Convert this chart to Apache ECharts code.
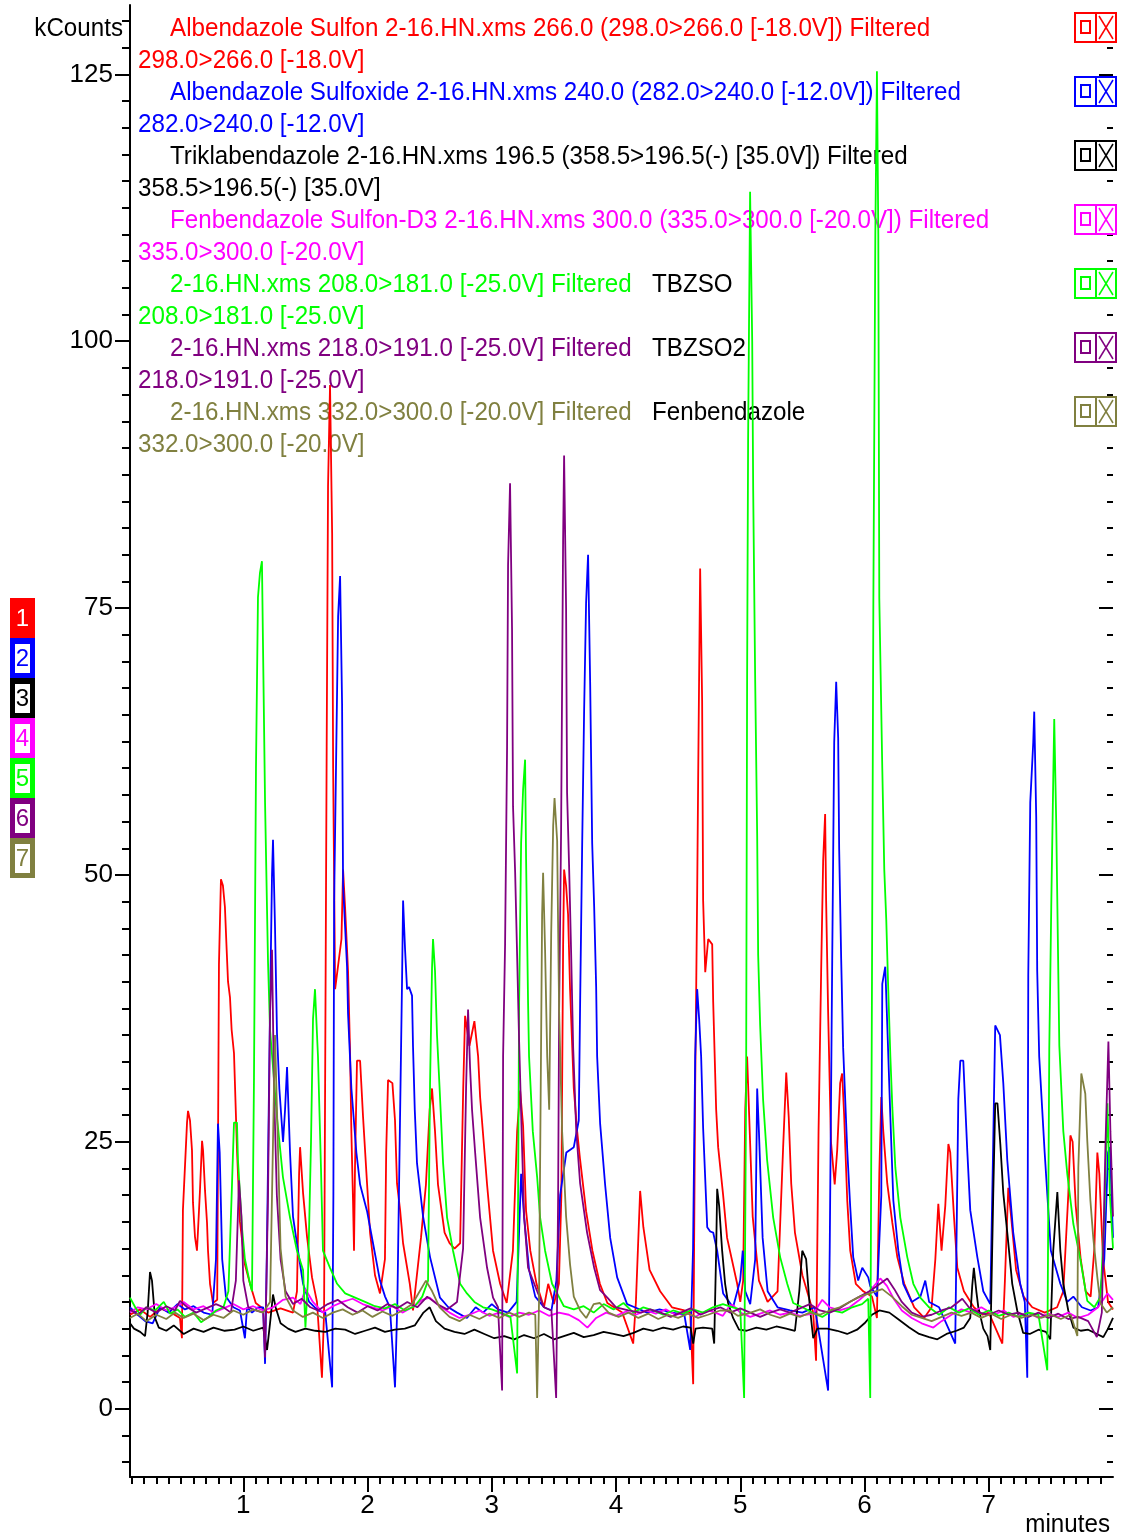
<!DOCTYPE html>
<html>
<head>
<meta charset="utf-8">
<script src="https://cdn.jsdelivr.net/npm/echarts@6/dist/echarts.min.js"></script>
<style>
  html, body { margin: 0; padding: 0; background: #fff; }
  #chart { width: 1127px; height: 1537px; }
</style>
</head>
<body>
<div id="chart"></div>
<script>
// chromatogram traces, [minutes, kCounts]
const albSulfon = [[0.088,8.8],[0.17,9.3],[0.25,8.6],[0.33,9.4],[0.42,9.0],[0.49,8.5],[0.506,6.6],[0.514,18.6],[0.547,26.8],[0.555,27.9],[0.571,27.0],[0.587,24.2],[0.595,19.3],[0.611,16.1],[0.627,14.8],[0.635,16.6],[0.651,20.4],[0.668,25.1],[0.676,24.2],[0.692,20.4],[0.708,17.4],[0.716,14.8],[0.732,11.7],[0.756,9.9],[0.79,10.2],[0.804,41.6],[0.82,49.6],[0.836,49.0],[0.852,47.0],[0.866,43.0],[0.877,40.0],[0.893,38.5],[0.906,35.5],[0.925,33.3],[0.95,24],[0.973,17.5],[1.013,13.5],[1.054,11.7],[1.10,9.9],[1.20,9.0],[1.30,9.4],[1.40,9.0],[1.432,11],[1.449,22],[1.457,24.5],[1.481,20.2],[1.513,16.1],[1.553,12.3],[1.593,10],[1.633,2.9],[1.65,9],[1.671,62],[1.682,86.4],[1.698,95.9],[1.71,86],[1.715,82],[1.723,60],[1.739,39.3],[1.79,44],[1.803,50.5],[1.819,47],[1.843,41],[1.859,33.6],[1.870,25.8],[1.883,19.5],[1.891,14.8],[1.899,22.6],[1.915,32.6],[1.94,32.6],[1.964,27.3],[1.996,21.1],[2.02,16.5],[2.06,12.5],[2.10,10.8],[2.14,14],[2.15,24],[2.165,30.8],[2.20,30.5],[2.221,27],[2.237,21.1],[2.262,18.6],[2.286,15.5],[2.34,11.7],[2.366,9.2],[2.43,16],[2.47,21],[2.50,28],[2.519,30],[2.543,26],[2.567,21],[2.62,16.5],[2.66,15.5],[2.70,15],[2.745,15.5],[2.77,30],[2.785,36.8],[2.82,34],[2.86,36.3],[2.89,33],[2.906,29.2],[2.962,21],[3.01,14.8],[3.067,11.7],[3.12,9.9],[3.17,14.8],[3.204,26],[3.228,29.8],[3.252,26.5],[3.276,18.5],[3.31,14.8],[3.36,11.7],[3.42,9.5],[3.454,11.7],[3.50,9.8],[3.54,11.7],[3.56,20],[3.574,43.3],[3.582,50.5],[3.598,49],[3.614,46.3],[3.63,39.3],[3.66,30],[3.687,26],[3.711,23.3],[3.759,18.5],[3.81,14.8],[3.87,11.7],[3.93,9.9],[4.05,9.0],[4.138,6.1],[4.16,10],[4.194,20.4],[4.22,17],[4.27,13],[4.355,11.0],[4.45,9.5],[4.55,9.2],[4.597,9],[4.621,2.3],[4.637,30],[4.653,48.2],[4.661,59],[4.677,78.7],[4.693,66.3],[4.701,47.6],[4.718,40.9],[4.742,44],[4.774,43.5],[4.782,38.1],[4.806,28],[4.822,24.5],[4.862,20],[4.894,16],[4.975,11.7],[5.0,10],[5.023,12],[5.04,28],[5.055,33],[5.07,28],[5.10,18],[5.15,12],[5.22,10],[5.30,11],[5.345,24.5],[5.37,31.5],[5.39,27.3],[5.41,21.1],[5.44,16.5],[5.50,12.5],[5.55,10.5],[5.587,9.0],[5.61,4.5],[5.63,26],[5.651,41],[5.667,51.3],[5.683,55.7],[5.691,47.6],[5.707,37.2],[5.73,25],[5.76,21],[5.78,24.2],[5.804,30.5],[5.82,31.4],[5.836,27.5],[5.861,19.5],[5.885,14.8],[5.93,11.7],[5.99,11],[6.06,10.5],[6.10,8.5],[6.119,22],[6.135,29.2],[6.151,26],[6.183,21.1],[6.224,17.4],[6.264,14.2],[6.32,11.7],[6.40,9.5],[6.48,8.5],[6.54,9.5],[6.57,14],[6.594,19.2],[6.62,14.8],[6.65,19],[6.675,24.8],[6.69,24],[6.72,18],[6.747,13.2],[6.80,11],[6.88,9.5],[6.95,8.8],[7.0,9],[7.109,6.1],[7.13,12],[7.157,20.7],[7.18,18],[7.22,13],[7.28,10.5],[7.35,9.5],[7.45,9],[7.55,9.5],[7.60,11],[7.64,20],[7.657,25.6],[7.675,25],[7.70,19],[7.74,14],[7.78,11],[7.82,10.5],[7.85,15],[7.874,24.0],[7.89,22],[7.92,14],[7.96,10],[8.0,9.3]];

const albSulfoxide = [[0.088,9.5],[0.15,8.8],[0.21,8.2],[0.27,8.0],[0.33,9.5],[0.40,9.0],[0.47,9.8],[0.53,9.3],[0.60,9.6],[0.68,9.0],[0.75,8.8],[0.78,14],[0.796,26.7],[0.81,24],[0.83,14],[0.86,10.5],[0.92,9.5],[0.973,9.2],[1.013,6.6],[1.03,9.5],[1.07,9.0],[1.12,9.5],[1.16,9.5],[1.175,4.2],[1.19,15],[1.215,37.4],[1.231,50],[1.239,53.3],[1.255,45.2],[1.271,35.2],[1.29,30],[1.32,25],[1.336,28],[1.352,32],[1.376,24],[1.40,18],[1.44,14.8],[1.481,11.7],[1.53,10],[1.60,9.2],[1.66,9.0],[1.715,2.0],[1.725,20],[1.731,47.6],[1.755,67.4],[1.763,74.2],[1.779,78],[1.795,66],[1.803,49],[1.835,41.4],[1.843,37],[1.87,30],[1.91,24],[1.94,21],[1.996,18.5],[2.044,15.5],[2.10,12],[2.141,10.5],[2.18,9.5],[2.221,2.0],[2.24,10],[2.278,40.4],[2.286,47.6],[2.302,43],[2.318,39.3],[2.334,39.5],[2.358,38.7],[2.366,33.9],[2.38,28],[2.398,23],[2.447,18],[2.503,14.2],[2.583,10.4],[2.65,9.5],[2.72,9.0],[2.80,8.5],[2.87,9.5],[2.93,9.0],[3.0,9.8],[3.05,9.3],[3.13,9.0],[3.20,10],[3.236,22],[3.26,18],[3.30,13],[3.35,10.5],[3.42,9.5],[3.48,9.2],[3.52,12],[3.55,20],[3.60,24],[3.66,24.5],[3.70,27],[3.711,38],[3.727,52.4],[3.743,65.3],[3.759,75.5],[3.775,80],[3.792,67.8],[3.808,53],[3.824,47],[3.84,39.5],[3.848,33],[3.872,26.7],[3.912,21],[3.953,16],[4.009,12.3],[4.089,9.8],[4.15,9.5],[4.25,9.0],[4.35,9.3],[4.45,9.0],[4.55,8.8],[4.597,5.5],[4.62,15],[4.637,33],[4.653,39.3],[4.669,36.5],[4.685,33],[4.701,26.3],[4.734,17],[4.758,16.6],[4.782,16.5],[4.814,14.8],[4.862,10.8],[4.942,9.5],[4.999,12],[5.02,14.8],[5.04,11],[5.08,9.8],[5.12,14],[5.136,30],[5.15,26],[5.18,16],[5.22,11],[5.30,9.5],[5.40,9.2],[5.50,9.0],[5.60,9.5],[5.707,1.7],[5.72,15],[5.74,42],[5.756,62.4],[5.772,68.1],[5.788,62.8],[5.796,52.4],[5.812,42.2],[5.828,33.8],[5.861,24.2],[5.885,18.9],[5.909,14.2],[5.949,12],[5.982,13.2],[6.03,12.3],[6.046,11.5],[6.10,10.5],[6.135,20],[6.143,39.8],[6.167,41.4],[6.183,36],[6.208,27.3],[6.232,19.5],[6.272,14.8],[6.312,11.7],[6.38,10],[6.45,10.5],[6.489,12],[6.52,10],[6.60,9.5],[6.73,6.1],[6.755,29],[6.771,32.6],[6.795,32.6],[6.827,24.2],[6.851,18.6],[6.908,14.2],[6.956,11],[7.012,9.8],[7.036,25],[7.052,35.9],[7.09,35],[7.117,30.5],[7.149,23.3],[7.197,16.5],[7.253,11.7],[7.29,10],[7.31,2.9],[7.318,40.6],[7.334,56.8],[7.358,62.4],[7.366,65.3],[7.382,55.4],[7.39,41],[7.406,33],[7.45,24],[7.50,14.8],[7.576,11.7],[7.632,10],[7.681,10.5],[7.75,9.5],[7.82,9.2],[7.88,9.5],[7.93,14],[7.96,24],[7.975,24.5],[8.0,16]];

const triklab = [[0.088,8.0],[0.12,7.5],[0.17,7.2],[0.209,6.8],[0.23,9],[0.249,12.8],[0.265,12.0],[0.289,8.5],[0.32,7.6],[0.38,7.3],[0.44,7.8],[0.52,7.0],[0.60,7.5],[0.68,7.2],[0.76,7.6],[0.85,7.3],[0.93,7.4],[1.0,7.7],[1.08,7.3],[1.16,7.6],[1.191,5.5],[1.215,8],[1.239,10.7],[1.26,9.5],[1.30,8.0],[1.36,7.5],[1.42,7.2],[1.50,7.5],[1.58,7.3],[1.66,7.2],[1.74,7.5],[1.82,7.4],[1.90,7.0],[1.98,7.3],[2.06,7.6],[2.14,7.2],[2.22,7.4],[2.30,7.5],[2.38,7.8],[2.45,9.0],[2.50,9.5],[2.55,8.2],[2.62,7.5],[2.70,7.2],[2.78,7.0],[2.86,7.4],[2.94,7.0],[3.02,6.6],[3.10,6.8],[3.18,6.5],[3.26,6.9],[3.34,6.6],[3.42,7.0],[3.50,6.5],[3.58,6.8],[3.66,7.1],[3.74,6.7],[3.82,6.9],[3.90,7.2],[3.98,7.0],[4.06,6.8],[4.14,7.1],[4.22,7.5],[4.30,7.3],[4.38,7.6],[4.46,7.4],[4.54,7.7],[4.60,7.6],[4.621,6.1],[4.64,7.5],[4.70,7.6],[4.774,7.5],[4.79,6.1],[4.806,14.8],[4.814,20.6],[4.83,19],[4.854,14.8],[4.878,11.7],[4.902,9.9],[4.942,8.5],[4.99,7.4],[5.05,7.3],[5.13,7.6],[5.21,7.4],[5.29,7.7],[5.37,7.5],[5.44,7.3],[5.475,11],[5.499,14.8],[5.53,14],[5.56,9.5],[5.587,6.6],[5.62,7.5],[5.70,7.5],[5.78,7.3],[5.86,7.0],[5.94,7.4],[6.0,8.0],[6.06,8.8],[6.12,9.2],[6.20,9.0],[6.28,8.3],[6.36,7.6],[6.44,7.0],[6.52,6.7],[6.586,6.5],[6.66,7.0],[6.74,7.3],[6.80,7.6],[6.851,8.5],[6.867,11.5],[6.88,13.2],[6.90,11],[6.916,9.5],[6.956,7.5],[6.99,6.8],[7.012,5.5],[7.036,20],[7.052,28.6],[7.07,28.6],[7.093,24.8],[7.117,20.2],[7.149,16.5],[7.189,11.7],[7.229,9.2],[7.277,7.1],[7.33,7.0],[7.40,7.4],[7.46,7.2],[7.495,6.5],[7.519,14.8],[7.552,20.3],[7.576,14.8],[7.60,11.7],[7.64,9.2],[7.681,7.6],[7.74,7.3],[7.80,7.4],[7.87,7.0],[7.922,6.7],[7.96,7.5],[8.0,8.5]];

const fenSulfonD3 = [[0.088,9.0],[0.15,9.5],[0.22,9.3],[0.30,9.8],[0.38,9.2],[0.45,9.5],[0.52,10.0],[0.60,9.3],[0.68,9.6],[0.76,9.0],[0.84,9.4],[0.92,9.8],[1.0,9.3],[1.08,9.6],[1.16,9.2],[1.24,9.5],[1.32,10.2],[1.40,10.4],[1.46,9.8],[1.50,11.2],[1.56,10.0],[1.64,9.0],[1.72,9.6],[1.80,10.0],[1.88,10.3],[1.96,9.8],[2.04,9.5],[2.12,9.2],[2.20,9.6],[2.28,9.0],[2.36,9.5],[2.44,10.2],[2.50,10.4],[2.58,9.6],[2.66,9.0],[2.74,8.5],[2.82,8.8],[2.90,9.2],[2.98,8.7],[3.06,9.0],[3.14,8.6],[3.22,9.0],[3.30,8.8],[3.38,9.2],[3.46,8.7],[3.54,9.0],[3.62,8.8],[3.70,8.3],[3.77,7.6],[3.84,8.5],[3.92,9.0],[4.0,8.7],[4.08,9.1],[4.16,8.8],[4.24,9.2],[4.32,8.9],[4.40,9.3],[4.48,8.8],[4.56,9.0],[4.64,8.6],[4.677,8.9],[4.74,9.2],[4.80,9.0],[4.86,8.7],[4.918,9.7],[4.942,9.7],[5.0,9.0],[5.08,8.6],[5.16,8.9],[5.24,9.2],[5.32,8.8],[5.40,9.0],[5.48,8.7],[5.587,8.9],[5.66,10.2],[5.72,9.5],[5.80,9.2],[5.88,9.5],[5.96,10.2],[6.04,11.0],[6.127,12.2],[6.18,11.5],[6.24,10.2],[6.30,9.2],[6.38,8.5],[6.46,8.0],[6.554,7.6],[6.62,8.2],[6.70,8.8],[6.78,9.3],[6.86,9.0],[6.94,9.5],[7.04,8.8],[7.12,9.2],[7.20,8.6],[7.253,8.8],[7.32,9.0],[7.40,8.5],[7.48,8.9],[7.56,8.6],[7.64,9.0],[7.72,8.5],[7.80,8.8],[7.88,9.5],[7.955,10.8],[8.0,10.2]];

const tbzso = [[0.088,10.4],[0.13,9.5],[0.17,8.8],[0.22,9.5],[0.29,9.2],[0.36,10.0],[0.41,8.9],[0.47,9.3],[0.53,8.6],[0.60,9.0],[0.66,8.1],[0.72,8.6],[0.78,9.2],[0.84,9.5],[0.88,11],[0.909,21],[0.925,26.8],[0.949,26.8],[0.957,23.3],[0.989,17],[1.013,14],[1.054,11.7],[1.07,11],[1.086,31],[1.102,60],[1.118,76],[1.134,78.3],[1.15,79.4],[1.158,72],[1.175,56.8],[1.191,46.7],[1.199,41.8],[1.215,35.5],[1.271,27.3],[1.319,21.7],[1.376,17.9],[1.432,14.8],[1.481,13],[1.50,7.6],[1.52,12],[1.545,25],[1.561,36.5],[1.577,39.3],[1.593,39.3],[1.601,33],[1.625,22.6],[1.641,14.8],[1.698,13.2],[1.755,11.7],[1.82,10.8],[1.90,10.4],[1.98,10.0],[2.06,9.6],[2.14,9.4],[2.22,9.8],[2.30,9.2],[2.38,9.6],[2.44,10.5],[2.487,12],[2.503,30.4],[2.519,41.3],[2.527,44],[2.543,41],[2.559,35],[2.58,30],[2.608,23],[2.64,17.9],[2.688,14.8],[2.745,11.7],[2.80,10.8],[2.86,10.0],[2.93,9.5],[3.0,9.3],[3.07,9.0],[3.15,8.6],[3.204,3.3],[3.22,38],[3.236,53],[3.252,58],[3.268,60.8],[3.276,51.5],[3.292,38],[3.30,33],[3.33,26],[3.365,21.7],[3.389,17.9],[3.429,14.8],[3.485,11.7],[3.526,10.8],[3.58,9.6],[3.66,9.3],[3.74,9.6],[3.82,9.0],[3.90,9.8],[3.98,9.3],[4.06,9.9],[4.14,9.0],[4.22,9.5],[4.30,9.2],[4.38,8.8],[4.46,9.2],[4.54,8.9],[4.62,9.3],[4.70,9.0],[4.78,9.5],[4.86,9.8],[4.94,9.5],[5.0,9.3],[5.031,1.0],[5.047,30],[5.055,68.3],[5.063,90.7],[5.079,114],[5.096,100],[5.104,86],[5.12,68.2],[5.136,53.7],[5.144,42.5],[5.16,35.9],[5.184,28.9],[5.216,23.3],[5.265,17.9],[5.321,14.2],[5.378,11.7],[5.426,9.9],[5.50,9.5],[5.58,9.0],[5.66,8.6],[5.74,9.2],[5.82,9.0],[5.90,9.5],[5.98,9.8],[6.03,10.3],[6.046,1.0],[6.06,40],[6.071,75.2],[6.087,110],[6.10,125.3],[6.111,110],[6.119,75.9],[6.143,60],[6.159,50.5],[6.175,45.8],[6.191,39.3],[6.208,33],[6.224,28.2],[6.248,22.6],[6.288,17.9],[6.344,14.2],[6.393,11.7],[6.449,10.4],[6.52,9.5],[6.60,8.8],[6.68,9.5],[6.76,9.0],[6.84,9.4],[6.92,8.8],[7.0,9.2],[7.08,8.7],[7.16,9.0],[7.24,8.6],[7.32,9.0],[7.40,8.8],[7.471,3.6],[7.487,33.6],[7.503,47],[7.519,59],[7.527,64.6],[7.543,54.9],[7.56,40.6],[7.568,34],[7.60,26],[7.632,22],[7.681,17.3],[7.737,14],[7.793,10.1],[7.85,9.5],[7.90,10.5],[7.93,18],[7.955,28.6],[7.975,20],[8.0,15]];

const tbzso2 = [[0.088,9.3],[0.15,8.8],[0.22,9.5],[0.30,9.0],[0.38,9.6],[0.45,9.2],[0.49,10.1],[0.55,9.5],[0.62,9.0],[0.70,9.4],[0.78,9.8],[0.84,9.5],[0.90,9.0],[0.94,12],[0.965,21.4],[0.985,18],[1.0,12],[1.04,9.5],[1.10,9.2],[1.16,9.0],[1.175,4.8],[1.199,20],[1.215,37],[1.231,43],[1.247,30],[1.27,20],[1.30,14],[1.34,11],[1.40,9.8],[1.47,10.3],[1.54,9.5],[1.60,9.2],[1.68,9.8],[1.76,10.2],[1.84,9.5],[1.92,9.0],[2.0,9.6],[2.08,9.2],[2.16,9.8],[2.24,9.4],[2.32,10.0],[2.40,9.5],[2.48,10.5],[2.56,9.8],[2.64,9.3],[2.72,10.0],[2.769,15],[2.793,30],[2.809,37.4],[2.825,32],[2.841,28],[2.866,24],[2.906,17.9],[2.962,13.2],[3.01,10.4],[3.05,9.5],[3.083,1.7],[3.091,33],[3.107,43.5],[3.123,62],[3.131,79],[3.147,86.7],[3.163,73],[3.171,56.4],[3.188,50.2],[3.204,42.4],[3.22,34.4],[3.24,26],[3.26,18],[3.292,13.2],[3.365,11],[3.42,9.5],[3.48,9.2],[3.518,1.0],[3.534,20],[3.542,37.2],[3.558,54.3],[3.574,81.4],[3.582,89.3],[3.598,75],[3.606,57.7],[3.622,50.9],[3.639,42.5],[3.655,33.8],[3.68,26],[3.711,21.1],[3.767,16.5],[3.824,13.2],[3.872,11.1],[3.93,10.4],[4.0,9.5],[4.10,9.2],[4.20,9.0],[4.275,9.3],[4.36,9.0],[4.44,8.6],[4.52,9.0],[4.60,9.4],[4.68,8.8],[4.76,9.2],[4.84,9.5],[4.92,9.0],[5.0,9.4],[5.08,9.0],[5.16,8.6],[5.24,9.0],[5.32,9.3],[5.40,9.0],[5.48,9.4],[5.56,9.8],[5.64,9.2],[5.72,9.0],[5.80,9.4],[5.88,10.0],[5.96,10.5],[6.04,11.0],[6.10,11.5],[6.183,12.2],[6.24,11.2],[6.30,10.0],[6.38,9.0],[6.46,8.6],[6.54,8.8],[6.62,9.2],[6.70,9.5],[6.787,10.3],[6.84,9.5],[6.92,9.0],[7.0,8.8],[7.08,9.2],[7.16,8.8],[7.24,9.0],[7.32,8.6],[7.40,9.0],[7.48,8.5],[7.56,8.9],[7.64,8.4],[7.72,8.6],[7.80,8.2],[7.87,6.7],[7.91,9],[7.94,25],[7.963,34.4],[7.979,26],[8.0,18]];

const fenbendazole = [[0.088,8.5],[0.15,8.9],[0.22,8.2],[0.30,8.8],[0.38,8.4],[0.45,9.0],[0.52,8.5],[0.60,8.9],[0.68,8.3],[0.76,8.8],[0.84,8.5],[0.92,9.2],[1.0,8.8],[1.08,9.3],[1.16,9.0],[1.215,10],[1.239,25],[1.255,35],[1.271,28],[1.30,15],[1.34,10.5],[1.40,9.2],[1.48,8.6],[1.56,9.0],[1.64,8.5],[1.72,9.0],[1.80,9.3],[1.88,8.8],[1.96,9.2],[2.04,8.6],[2.12,9.1],[2.20,8.7],[2.28,9.2],[2.36,9.8],[2.42,11],[2.47,12],[2.52,11],[2.58,9.5],[2.66,8.6],[2.74,8.2],[2.82,8.8],[2.90,8.4],[2.98,8.9],[3.06,8.5],[3.14,9.0],[3.22,8.6],[3.30,9.0],[3.35,8.8],[3.365,1.0],[3.38,10],[3.405,46.3],[3.413,50.2],[3.429,42.9],[3.446,33],[3.462,28],[3.478,44.4],[3.494,54.6],[3.505,57.2],[3.526,53.2],[3.534,45],[3.542,37.2],[3.566,26],[3.598,18],[3.63,13.5],[3.66,10.5],[3.711,9.2],[3.76,8.5],[3.82,9.8],[3.87,9.9],[3.94,9.0],[4.02,8.6],[4.10,9.0],[4.18,8.5],[4.26,8.9],[4.34,8.4],[4.42,8.8],[4.50,8.5],[4.58,8.9],[4.66,8.5],[4.74,8.8],[4.838,9.2],[4.918,9.2],[4.98,8.7],[5.06,8.9],[5.16,9.3],[5.24,8.8],[5.32,8.5],[5.40,8.9],[5.48,8.6],[5.56,9.0],[5.64,8.8],[5.72,9.2],[5.80,9.5],[5.88,10.0],[5.96,10.5],[6.04,10.8],[6.143,11.2],[6.22,10.5],[6.30,9.6],[6.38,8.8],[6.46,8.5],[6.54,8.2],[6.62,8.6],[6.70,9.0],[6.78,8.7],[6.86,9.0],[6.94,8.5],[7.02,8.9],[7.10,8.4],[7.18,8.8],[7.26,8.5],[7.34,8.8],[7.42,8.5],[7.50,8.8],[7.58,8.4],[7.66,8.8],[7.713,6.8],[7.721,22.6],[7.745,31.4],[7.777,29.5],[7.793,25.1],[7.818,19.5],[7.842,15.9],[7.874,12.3],[7.898,9.9],[7.95,9.0],[8.0,9.5]];

const TRACES = [albSulfon, albSulfoxide, triklab, fenSulfonD3, tbzso, tbzso2, fenbendazole];
const COLORS = ['#ff0000', '#0000ff', '#000000', '#ff00ff', '#00ff00', '#800080', '#808040'];
const NAMES = ['Albendazole Sulfon', 'Albendazole Sulfoxide', 'Triklabendazole', 'Fenbendazole Sulfon-D3', 'TBZSO', 'TBZSO2', 'Fenbendazole'];

const LEGEND_MAIN = [
  'Albendazole Sulfon 2-16.HN.xms 266.0 (298.0>266.0 [-18.0V]) Filtered',
  'Albendazole Sulfoxide 2-16.HN.xms 240.0 (282.0>240.0 [-12.0V]) Filtered',
  'Triklabendazole 2-16.HN.xms 196.5 (358.5>196.5(-) [35.0V]) Filtered',
  'Fenbendazole Sulfon-D3 2-16.HN.xms 300.0 (335.0>300.0 [-20.0V]) Filtered',
  '2-16.HN.xms 208.0>181.0 [-25.0V] Filtered',
  '2-16.HN.xms 218.0>191.0 [-25.0V] Filtered',
  '2-16.HN.xms 332.0>300.0 [-20.0V] Filtered'
];
const LEGEND_SUB = [
  '298.0>266.0 [-18.0V]', '282.0>240.0 [-12.0V]', '358.5>196.5(-) [35.0V]',
  '335.0>300.0 [-20.0V]', '208.0>181.0 [-25.0V]', '218.0>191.0 [-25.0V]', '332.0>300.0 [-20.0V]'
];
const LEGEND_TAG = ['', '', '', '', 'TBZSO', 'TBZSO2', 'Fenbendazole'];

const X_LABELS = [1, 2, 3, 4, 5, 6, 7];
const Y_LABELS = [0, 25, 50, 75, 100, 125];

const X_MIN = 0.088, X_MAX = 8.0;
const Y_MIN = -6.4, Y_MAX = 131.5;

const FONT = "'Liberation Sans', Arial, sans-serif";
const NARROW = 0.93; // the reference uses a slightly condensed face

// minor tick positions
const xMinor = [];
for (let i = 1; i <= 80; i++) if (i % 10) xMinor.push(i / 10);
const yMinor = [];
for (let v = -5; v <= 130; v += 2.5) if (v % 25) yMinor.push(v);

const chart = echarts.init(document.getElementById('chart'), null, { renderer: 'canvas' });

function label(text, x, y, color, align, size) {
  return {
    type: 'text', x: x, y: y, scaleX: NARROW, z: 1,
    style: { text: text, fill: color, font: (size || 26) + 'px ' + FONT,
      textAlign: align || 'left', textVerticalAlign: 'middle' },
  };
}

const graphics = [];
LEGEND_MAIN.forEach((t, i) => {
  const y = 29 + 64 * i;
  graphics.push(label(t, 170, y, COLORS[i]));
  graphics.push(label(LEGEND_SUB[i], 138, y + 32, COLORS[i]));
  if (LEGEND_TAG[i]) graphics.push(label(LEGEND_TAG[i], 652, y, '#000'));

  // box icons on the right
  const iy = 13 + 64 * i;
  graphics.push({ type: 'rect', shape: { x: 1075, y: iy, width: 41, height: 29 },
    style: { fill: '#fff', stroke: COLORS[i], lineWidth: 2 }, z: 1 });
  graphics.push({ type: 'line', shape: { x1: 1096, y1: iy, x2: 1096, y2: iy + 29 },
    style: { stroke: COLORS[i], lineWidth: 2 }, z: 1 });
  graphics.push({ type: 'rect', shape: { x: 1081, y: iy + 8, width: 9, height: 12 },
    style: { fill: 'none', stroke: COLORS[i], lineWidth: 2 }, z: 1 });
  graphics.push({ type: 'line', shape: { x1: 1099, y1: iy + 3, x2: 1113, y2: iy + 26 },
    style: { stroke: COLORS[i], lineWidth: 1.5 }, z: 1 });
  graphics.push({ type: 'line', shape: { x1: 1113, y1: iy + 3, x2: 1099, y2: iy + 26 },
    style: { stroke: COLORS[i], lineWidth: 1.5 }, z: 1 });

  // numbered trace boxes on the left
  const by = 598 + 40 * i;
  graphics.push({ type: 'rect', shape: { x: 10, y: by, width: 25, height: 40 },
    style: { fill: COLORS[i] }, z: 1 });
  if (i > 0) {
    graphics.push({ type: 'rect', shape: { x: 15, y: by + 6, width: 15, height: 29 },
      style: { fill: '#fff' }, z: 1 });
  }
  graphics.push({ type: 'text', x: 22.5, y: by + 21, z: 2,
    style: { text: String(i + 1), fill: i === 0 ? '#fff' : COLORS[i], font: '24px ' + FONT,
      textAlign: 'center', textVerticalAlign: 'middle' } });
});
graphics.push(label('kCounts', 123, 29, '#000', 'right'));
graphics.push(label('minutes', 1110, 1525, '#000', 'right'));

const axisText = { color: '#000', fontSize: 26, fontFamily: FONT };
const tickStyle = { color: '#000', width: 2 };

function hiddenAxis(extra) {
  return Object.assign({
    type: 'value', axisLine: { show: false, onZero: false },
    axisLabel: { show: false }, splitLine: { show: false },
  }, extra);
}

const option = {
  animation: false,
  backgroundColor: '#fff',
  grid: { left: 130, right: 14, top: 5, bottom: 60 },
  xAxis: [
    {
      type: 'value', min: X_MIN, max: X_MAX, position: 'bottom',
      axisLine: { onZero: false, lineStyle: { color: '#000', width: 2 } },
      axisTick: { customValues: X_LABELS, length: 15, lineStyle: tickStyle },
      axisLabel: { customValues: X_LABELS, margin: 16, ...axisText },
      splitLine: { show: false },
    },
    hiddenAxis({ min: X_MIN, max: X_MAX, position: 'bottom',
      axisTick: { customValues: xMinor, length: 7, lineStyle: tickStyle } }),
  ],
  yAxis: [
    {
      type: 'value', min: Y_MIN, max: Y_MAX, position: 'left',
      axisLine: { show: true, onZero: false, lineStyle: { color: '#000', width: 2 } },
      axisTick: { customValues: Y_LABELS, length: 15, lineStyle: tickStyle },
      axisLabel: { customValues: Y_LABELS, margin: 17, ...axisText },
      splitLine: { show: false },
    },
    hiddenAxis({ min: Y_MIN, max: Y_MAX, position: 'left',
      axisTick: { customValues: yMinor, length: 8, lineStyle: tickStyle } }),
    hiddenAxis({ min: Y_MIN, max: Y_MAX, position: 'right',
      axisTick: { customValues: Y_LABELS, inside: true, length: 14, lineStyle: tickStyle } }),
    hiddenAxis({ min: Y_MIN, max: Y_MAX, position: 'right',
      axisTick: { customValues: yMinor, inside: true, length: 6, lineStyle: tickStyle } }),
  ],
  graphic: { elements: graphics },
  series: TRACES.map((d, i) => ({
    name: NAMES[i],
    type: 'line',
    data: d,
    xAxisIndex: 0,
    yAxisIndex: 0,
    symbol: 'none',
    lineStyle: { color: COLORS[i], width: 1.8 },
    itemStyle: { color: COLORS[i] },
    z: 3,
  })),
};

chart.setOption(option);
</script>
</body>
</html>
